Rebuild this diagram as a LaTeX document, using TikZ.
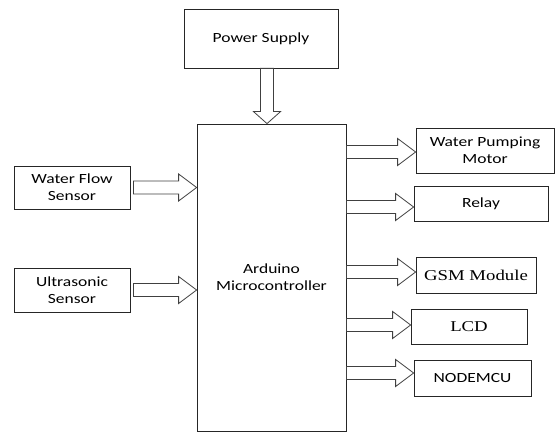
\documentclass[tikz,border=0pt]{standalone}
\usepackage{fontspec}
\setmainfont{Carlito}[FakeStretch=1.25]
\newfontfamily\serifface{Liberation Serif}[FakeStretch=1.25]
\usetikzlibrary{calc}

% hollow block arrow from #2 to #3, head length #1
\newcommand{\hollowarrow}[3][18pt]{%
  \path (#2) coordinate (ha-s) (#3) coordinate (ha-e);
  \path ($(ha-e)!#1!(ha-s)$) coordinate (ha-h);
  \draw[hollow] ($(ha-s)!6.5pt!90:(ha-e)$) -- ($(ha-h)!6.5pt!-90:(ha-s)$)
    -- ($(ha-h)!13.5pt!-90:(ha-s)$) -- (ha-e) -- ($(ha-h)!13.5pt!90:(ha-s)$)
    -- ($(ha-h)!6.5pt!90:(ha-s)$) -- ($(ha-s)!6.5pt!-90:(ha-e)$) -- cycle;
}

\begin{document}
\begin{tikzpicture}[x=1pt, y=-1pt,
    blk/.style={draw=black!85, line width=0.8pt, align=center, inner sep=0pt, font=\fontsize{14pt}{17pt}\selectfont},
    serifblk/.style={blk, font=\serifface\fontsize{15pt}{18pt}\selectfont},
    hollow/.style={draw=black!75, line width=0.8pt, fill=white}
]
\useasboundingbox (0,0) rectangle (556,433);

\node[blk, minimum width=154pt, minimum height=59pt] (power) at (261,38.5) {Power Supply};
\node[blk, minimum width=149pt, minimum height=307pt] (mcu) at (271.5,277.5) {Arduino\\Microcontroller};
\node[blk, minimum width=116pt, minimum height=43pt] (flow) at (72,187.5) {Water Flow\\Sensor};
\node[blk, minimum width=116pt, minimum height=44pt] (ultra) at (72,290) {Ultrasonic\\Sensor};
\node[blk, minimum width=138pt, minimum height=45pt] (motor) at (485,150.5) {Water Pumping\\Motor};
\node[blk, minimum width=134pt, minimum height=35pt] (relay) at (481,203.5) {Relay};
\node[serifblk, minimum width=120pt, minimum height=36pt] (gsm) at (476,275) {GSM Module};
\node[serifblk, minimum width=116pt, minimum height=35pt] (lcd) at (469,326.5) {LCD};
\node[blk, minimum width=117pt, minimum height=36pt] (nodemcu) at (472.5,378) {NODEMCU};

\hollowarrow[12pt]{$(power.south)+(6,0)$}{$(power.south |- mcu.north)+(6,0)$}
\hollowarrow{$(flow.east)+(3,0)$}{mcu.west |- flow.east}
\hollowarrow{$(ultra.east)+(3,0)$}{mcu.west |- ultra.east}
\hollowarrow{$(mcu.east |- motor.west)+(0,1.5)$}{$(motor.west)+(0,1.5)$}
\hollowarrow{$(mcu.east |- relay.west)+(0,3.5)$}{$(relay.west)+(0,3.5)$}
\hollowarrow{$(mcu.east |- gsm.west)+(0,-3)$}{$(gsm.west)+(0,-3)$}
\hollowarrow{$(mcu.east |- lcd.west)+(0,-1.5)$}{$(lcd.west)+(0,-1.5)$}
\hollowarrow{$(mcu.east |- nodemcu.west)+(0,-5)$}{$(nodemcu.west)+(0,-5)$}
\end{tikzpicture}
\end{document}
